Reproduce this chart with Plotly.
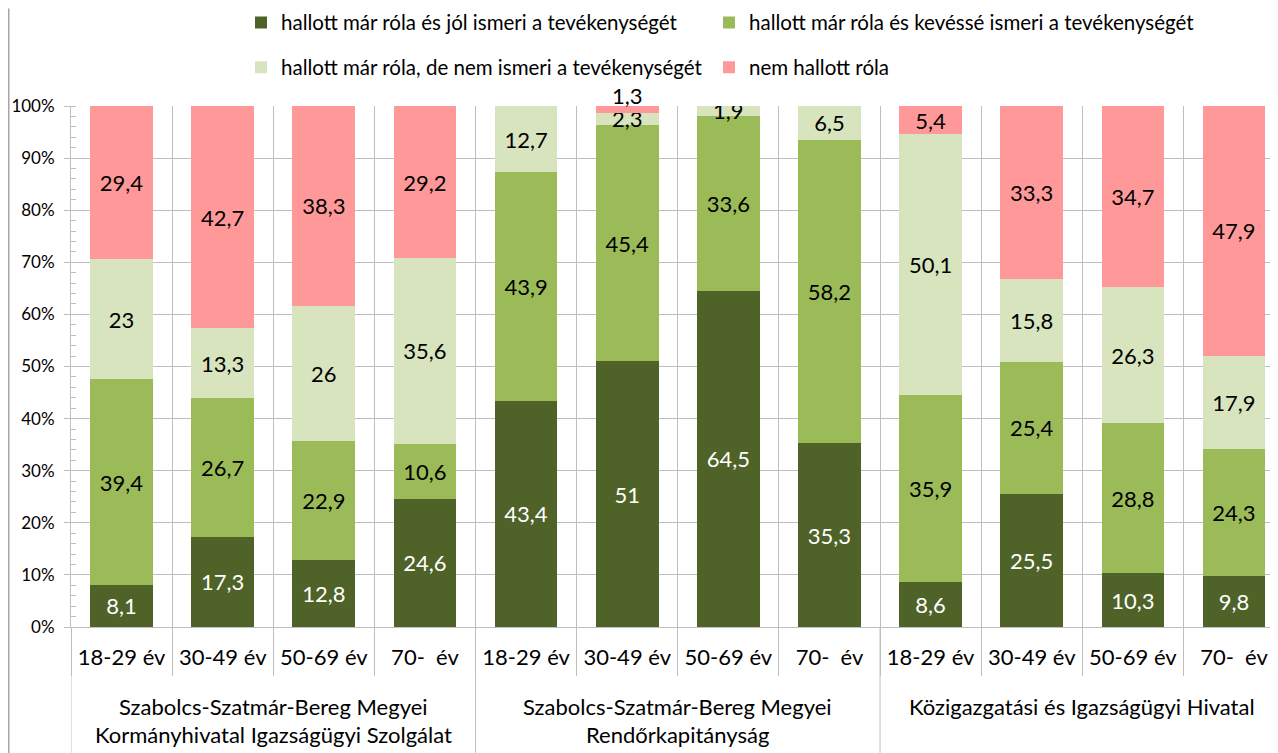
import plotly.graph_objects as go

# ---- data ----
groups = [
    "Szabolcs-Szatmár-Bereg Megyei<br>Kormányhivatal Igazságügyi Szolgálat",
    "Szabolcs-Szatmár-Bereg Megyei<br>Rendőrkapitányság",
    "Közigazgatási és Igazságügyi Hivatal",
]
ages = ["18-29 év", "30-49 év", "50-69 év", "70-  év"]

series_names = [
    "hallott már róla és jól ismeri a tevékenységét",
    "hallott már róla és kevéssé ismeri a tevékenységét",
    "hallott már róla, de nem ismeri a tevékenységét",
    "nem hallott róla",
]
jol_ismeri = [8.1, 17.3, 12.8, 24.6, 43.4, 51, 64.5, 35.3, 8.6, 25.5, 10.3, 9.8]
kevesse_ismeri = [39.4, 26.7, 22.9, 10.6, 43.9, 45.4, 33.6, 58.2, 35.9, 25.4, 28.8, 24.3]
nem_ismeri = [23, 13.3, 26, 35.6, 12.7, 2.3, 1.9, 6.5, 50.1, 15.8, 26.3, 17.9]
nem_hallott = [29.4, 42.7, 38.3, 29.2, None, 1.3, None, None, 5.4, 33.3, 34.7, 47.9]

series_values = [jol_ismeri, kevesse_ismeri, nem_ismeri, nem_hallott]
colors = ["#4F6228", "#9BBB59", "#D7E4BD", "#FF9999"]
text_colors = ["white", "black", "black", "black"]
y_ticks = [0, 10, 20, 30, 40, 50, 60, 70, 80, 90, 100]

FONT = "Lato"
OFF = 8  # page body margin offset of the figure inside the window
W, H = 1278 - OFF, 753 - OFF
ML, MT = 71 - OFF, 105.5 - OFF
BOTTOM = 627 - OFF
MB = H - BOTTOM
plot_h = H - MT - MB
CAT_W = 101.13
SMALL = 1.5  # segments thinner than this get their label just above the stack
n = len(groups) * len(ages)
xs = list(range(n))


def fmt(v):
    return "" if v is None else ("%g" % v).replace(".", ",")


def ypaper(screen_y):
    return (BOTTOM - (screen_y - OFF)) / plot_h


def xpaper(screen_x):
    return (screen_x - OFF - ML) / (W - ML)


legend_ids = ["legend", "legend2", "legend3", "legend4"]
# legend item positions (left edge of legend box, row centre) in window pixels
legend_pos = [(241, 22), (709, 22), (241, 67), (709, 67)]

fig = go.Figure()
for i, (name, vals) in enumerate(zip(series_names, series_values)):
    fig.add_trace(go.Bar(
        x=xs, y=vals, name=name,
        marker=dict(color=colors[i], line=dict(width=0)),
        text=[fmt(v) if (v is not None and v >= SMALL) else "" for v in vals],
        textposition="inside",
        insidetextanchor="middle", textangle=0, constraintext="none",
        textfont=dict(family=FONT, size=22, color=text_colors[i]),
        width=0.62,
        legend=legend_ids[i],
        hoverinfo="skip",
    ))

# labels of very thin top segments, placed just above the (100 %) stack top
for i, vals in enumerate(series_values):
    for x, v in zip(xs, vals):
        if v is not None and v < SMALL:
            total = sum((s[x] or 0) for s in series_values)
            top = sum((s[x] or 0) for s in series_values[: i + 1]) / total * 100
            fig.add_annotation(x=x, y=top, xref="x", yref="y", text=fmt(v), showarrow=False,
                               xanchor="center", yanchor="middle", yshift=11,
                               font=dict(family=FONT, size=22, color=text_colors[i]))

grid = "#BFBFBF"
legends = {}
for lid, (lx, ly) in zip(legend_ids, legend_pos):
    legends[lid] = dict(orientation="h", x=xpaper(lx), y=ypaper(ly),
                        xanchor="left", yanchor="middle",
                        font=dict(family=FONT, size=20.5), bgcolor="rgba(0,0,0,0)")

fig.update_layout(
    width=W, height=H,
    margin=dict(l=ML, r=0, t=MT, b=MB, autoexpand=False, pad=0),
    barmode="stack", barnorm="percent",
    plot_bgcolor="white", paper_bgcolor="white",
    font=dict(family=FONT, size=18, color="black"),
    uniformtext=dict(minsize=22, mode="show"),
    showlegend=True,
    **legends,
    xaxis=dict(
        range=[-0.5, -0.5 + (W - ML) / CAT_W], showgrid=False, zeroline=False,
        tickvals=xs, ticktext=[a for _ in groups for a in ages], ticks="",
        ticklabelstandoff=11, tickfont=dict(family=FONT, size=22),
        showline=True, linecolor=grid, linewidth=1,
        minor=dict(tickvals=[x - 0.5 for x in range(n + 1)], showgrid=True, gridcolor=grid,
                   ticks="outside", ticklen=48, tickcolor=grid, gridwidth=1),
        fixedrange=True,
    ),
    yaxis=dict(
        range=[0, 100], tickvals=y_ticks, ticktext=[f"{v}%" for v in y_ticks],
        showgrid=True, gridcolor=grid, gridwidth=1, zeroline=False,
        showline=True, linecolor=grid, linewidth=1,
        ticks="outside", ticklen=6, tickcolor=grid,
        ticklabelstandoff=6,
        tickfont=dict(family=FONT, size=17),
        minor=dict(dtick=2, ticks="inside", ticklen=5, tickcolor=grid, showgrid=False),
        fixedrange=True,
    ),
)

# group separators (full height into label area) and left border
ybot = -MB / plot_h
for b in [-0.5, 3.5, 7.5, 11.5]:
    fig.add_shape(type="line", xref="x", yref="paper", x0=b, x1=b, y0=0, y1=ybot,
                  line=dict(color=grid, width=1))
bx = (0.75 - ML) / (W - ML)
fig.add_shape(type="line", xref="paper", yref="paper", x0=bx, x1=bx, y0=ybot, y1=(H - MB) / plot_h,
              line=dict(color="#A6A6A6", width=1.5))

# group labels
for gi, g in enumerate(groups):
    cx = gi * len(ages) + (len(ages) - 1) / 2
    for li, line in enumerate(g.split("<br>")):
        fig.add_annotation(x=cx, y=ypaper(707 + 28 * li), xref="x", yref="paper",
                           text=line, showarrow=False, xanchor="center", yanchor="middle",
                           font=dict(family=FONT, size=22, color="black"))

fig.write_html("out.html")
